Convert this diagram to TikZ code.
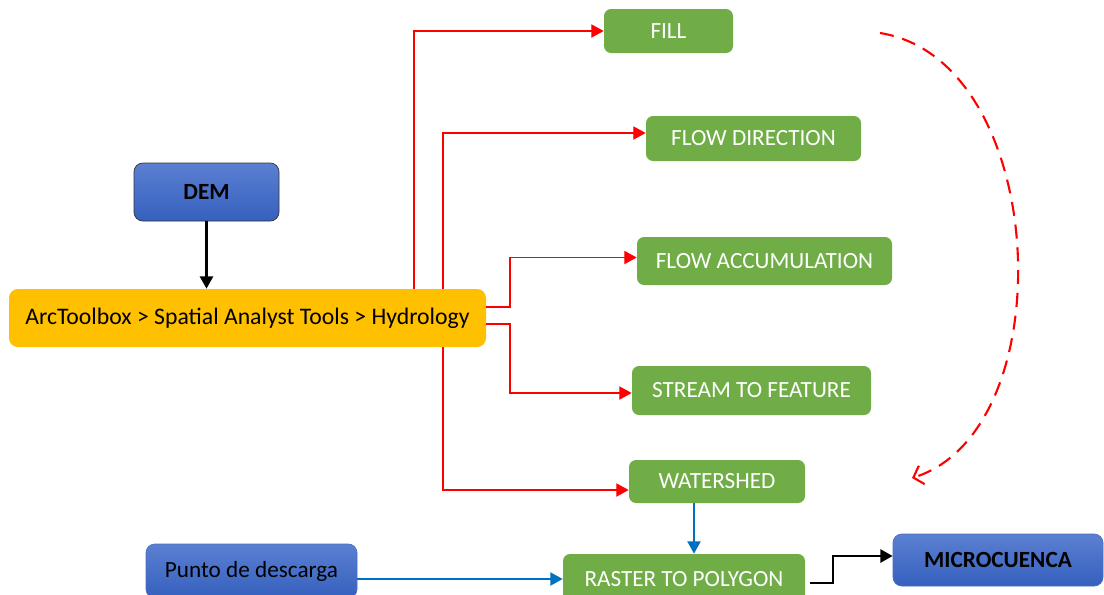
\documentclass[tikz,border=0pt]{standalone}
\usepackage{fontspec}
\setmainfont{Carlito}
\usepackage{xcolor}
\usepackage{tikz}
\usetikzlibrary{shapes,arrows,arrows.meta,positioning}

\definecolor{verde}{HTML}{70AD47}
\definecolor{naranja}{HTML}{FFC000}
\definecolor{azularriba}{HTML}{5B80D2}
\definecolor{azulabajo}{HTML}{3560BE}
\definecolor{azulborde}{HTML}{4A6FC0}
\definecolor{azulflecha}{HTML}{0070C0}

\begin{document}
\begin{tikzpicture}[>={Triangle[length=7pt,width=7.5pt]},
        font=\fontsize{13.2}{15}\selectfont,
        paso/.style={fill=verde, rounded corners=4pt, text=white, inner sep=0pt},
        bloque/.style={draw=azulborde, top color=azularriba, bottom color=azulabajo, rounded corners=5pt, inner sep=0pt},
        rojo/.style={->, draw=red, line width=0.7pt},
        azul/.style={->, draw=azulflecha, line width=0.9pt},
        negro/.style={->, draw=black, line width=1.2pt}]
        \useasboundingbox (0,0) rectangle (22.08,-11.88);
        % cajas
        \node[bloque, draw=black!80, minimum width=2.9cm, minimum height=1.16cm, font=\fontsize{13.2}{15}\selectfont\bfseries] (dem) at (4.13,-3.84) {DEM};
        \node[fill=naranja, rounded corners=5pt, inner sep=0pt, minimum width=9.54cm, minimum height=1.16cm, font=\fontsize{13.5}{15}\selectfont] (arc) at (4.95,-6.36) {ArcToolbox > Spatial Analyst Tools > Hydrology};
        \node[paso, minimum width=2.58cm, minimum height=0.88cm] (fill) at (13.37,-0.62) {FILL};
        \node[paso, minimum width=4.30cm, minimum height=0.90cm] (flowdir) at (15.07,-2.77) {FLOW DIRECTION};
        \node[paso, minimum width=5.10cm, minimum height=0.96cm] (flowacc) at (15.29,-5.22) {FLOW ACCUMULATION};
        \node[paso, minimum width=4.78cm, minimum height=0.98cm] (stream) at (15.03,-7.81) {STREAM TO FEATURE};
        \node[paso, minimum width=3.52cm, minimum height=0.86cm] (watershed) at (14.34,-9.63) {WATERSHED};
        \node[paso, minimum width=4.84cm, minimum height=1.0cm] (raster) at (13.68,-11.58) {RASTER TO POLYGON};
        \node[bloque, minimum width=4.22cm, minimum height=1.08cm] (punto) at (5.03,-11.42) {Punto de descarga};
        \node[bloque, minimum width=4.2cm, minimum height=1.04cm, font=\fontsize{13.2}{15}\selectfont\bfseries] (micro) at (19.96,-11.2) {MICROCUENCA};
        % puntos de quiebre
        \coordinate (j1) at (8.28,0);
        \coordinate (j2) at (8.86,0);
        \coordinate (j3) at (10.2,0);
        \coordinate (j4) at (13.88,0);
        \coordinate (j5) at (16.66,0);
        \coordinate (tdir) at ([yshift=0.11cm]flowdir.west);
        \coordinate (tacc) at ([yshift=0.07cm]flowacc.west);
        \coordinate (tstr) at ([yshift=-0.05cm]stream.west);
        \coordinate (twat) at ([yshift=-0.17cm]watershed.west);
        \coordinate (tmic) at ([yshift=0.08cm]micro.west);
        \coordinate (c1) at (21.0,-1.2);
        \coordinate (c2) at (21.3,-8.6);
        \coordinate (ini) at (17.6,-0.66);
        \coordinate (fin) at (18.24,-9.56);
        % flechas
        \path (dem.south) edge[negro] (dem.south |- arc.north);
        \draw[rojo] (j1 |- arc.north) |- (fill.west);
        \draw[rojo] (j2 |- arc.north) |- (tdir);
        \draw[rojo] ([yshift=0.22cm]arc.east) -| (j3 |- tacc) -- (tacc);
        \draw[rojo] ([yshift=-0.12cm]arc.east) -| (j3 |- tstr) -- (tstr);
        \draw[rojo] (j2 |- arc.south) |- (twat);
        \path (j4 |- watershed.south) edge[azul] (j4 |- raster.north);
        \path (punto.east |- raster.west) edge[azul] (raster.west);
        \draw[negro] ([xshift=0.1cm,yshift=-0.08cm]raster.east) -| (j5 |- tmic) -- (tmic);
        \draw[red, line width=1.2pt, dash pattern=on 8pt off 5pt, -{Straight Barb[length=5pt,width=11pt]}]
            (ini) .. controls (c1) and (c2) .. (fin);
    \end{tikzpicture}
\end{document}
